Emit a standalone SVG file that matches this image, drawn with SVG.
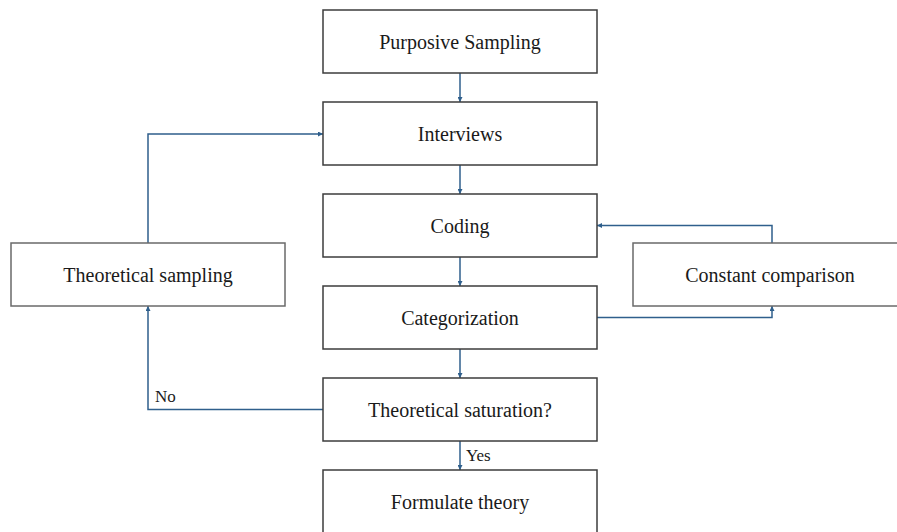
<svg xmlns="http://www.w3.org/2000/svg" width="897" height="532" viewBox="0 0 897 532">
  <style>
    .box { fill: #ffffff; stroke: #3c3c3c; stroke-width: 1.5; }
    .side { fill: #ffffff; stroke: #6a6a6a; stroke-width: 1.5; }
    .label { font-family: "Liberation Serif", "Times New Roman", serif; font-size: 20px; fill: #1a1a1a; text-anchor: middle; }
    .small { font-family: "Liberation Serif", "Times New Roman", serif; font-size: 17px; fill: #1a1a1a; }
    .conn { fill: none; stroke: #2f5f8c; stroke-width: 1.5; marker-end: url(#arrow); }
  </style>
  <defs>
    <marker id="arrow" viewBox="0 0 10 10" refX="10" refY="5" markerWidth="5" markerHeight="5" orient="auto" markerUnits="userSpaceOnUse">
      <path d="M0,0 L10,5 L0,10 z" fill="#2f5f8c"/>
    </marker>
  </defs>
  <rect width="897" height="532" fill="#ffffff"/>

  <g id="connectors">
    <line class="conn" x1="460" y1="73" x2="460" y2="102"/>
    <line class="conn" x1="460" y1="165" x2="460" y2="194"/>
    <line class="conn" x1="460" y1="257" x2="460" y2="286"/>
    <line class="conn" x1="460" y1="349" x2="460" y2="378"/>
    <line class="conn" x1="460" y1="441" x2="460" y2="470"/>
    <polyline class="conn" points="148,243 148,134 323,134"/>
    <polyline class="conn" points="323,409.5 148,409.5 148,306"/>
    <polyline class="conn" points="772,243 772,225.5 597,225.5"/>
    <polyline class="conn" points="597,317.5 772,317.5 772,306"/>
    <text class="small" x="155" y="402">No</text>
    <text class="small" x="466" y="461">Yes</text>
  </g>

  <g id="purposive-sampling">
    <rect class="box" x="323" y="10" width="274" height="63"/>
    <text class="label" x="460" y="49">Purposive Sampling</text>
  </g>
  <g id="interviews">
    <rect class="box" x="323" y="102" width="274" height="63"/>
    <text class="label" x="460" y="141">Interviews</text>
  </g>
  <g id="coding">
    <rect class="box" x="323" y="194" width="274" height="63"/>
    <text class="label" x="460" y="233">Coding</text>
  </g>
  <g id="categorization">
    <rect class="box" x="323" y="286" width="274" height="63"/>
    <text class="label" x="460" y="325">Categorization</text>
  </g>
  <g id="theoretical-saturation">
    <rect class="box" x="323" y="378" width="274" height="63"/>
    <text class="label" x="460" y="417">Theoretical saturation?</text>
  </g>
  <g id="formulate-theory">
    <rect class="box" x="323" y="470" width="274" height="63"/>
    <text class="label" x="460" y="509">Formulate theory</text>
  </g>
  <g id="theoretical-sampling">
    <rect class="side" x="11" y="243" width="274" height="63"/>
    <text class="label" x="148" y="282">Theoretical sampling</text>
  </g>
  <g id="constant-comparison">
    <rect class="side" x="633" y="243" width="274" height="63"/>
    <text class="label" x="770" y="282">Constant comparison</text>
  </g>
</svg>
